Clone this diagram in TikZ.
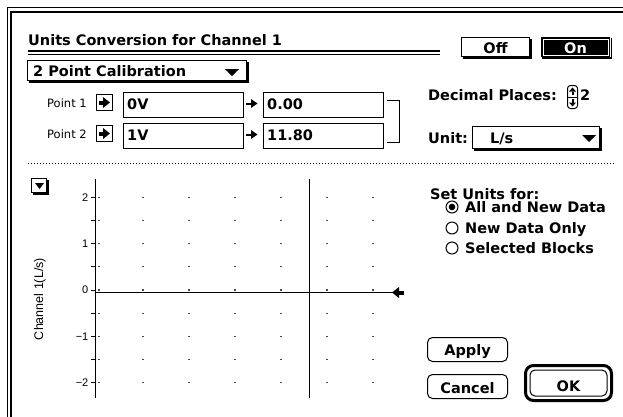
\documentclass[tikz,border=0pt]{standalone}
\usepackage{fontspec}
\newfontfamily\chic{DejaVu Sans}
\newfontfamily\genv{DejaVu Sans}
\newfontfamily\helv{Liberation Sans}
\usetikzlibrary{arrows.meta}
\begin{document}
\begin{tikzpicture}[x=1pt,y=-1pt,
  cb/.style={font=\chic\bfseries\fontsize{14.5}{16}\selectfont, inner sep=0pt},
  sm/.style={font=\genv\fontsize{11.5}{13}\selectfont, inner sep=0pt},
  hv/.style={font=\helv\fontsize{11}{13}\selectfont, inner sep=0pt},
  box/.style={draw, line width=1pt},
  shad/.style={line width=1.5pt},
  rbtn/.style={draw, line width=1pt, rounded corners=5pt},
  griddot/.style={fill=black!70}]
\useasboundingbox (0,0) rectangle (623,416);
\fill[white] (0,0) rectangle (623,416);
% window frame
\draw[line width=1pt] (7.5,420) -- (7.5,7.5) -- (630,7.5);
\draw[line width=2.5pt] (11,420) -- (11,11.75) -- (630,11.75);
% title
\node[cb, anchor=base west] (title) at (28,45) {Units Conversion for Channel 1};
\draw[line width=2pt] (28,51) -- (440,51);
\draw[line width=1pt] (28,54.5) -- (440,54.5);
% Off / On
\draw[box] (461.5,37.5) rectangle (529.5,56.5);
\draw[shad] (462.5,58) -- (531,58) -- (531,38.5);
\node[cb, anchor=base] (off) at (495.5,53) {Off};
\fill (541,37) rectangle (610,57);
\draw[shad] (542,58) -- (611.5,58) -- (611.5,38);
\draw[white, line width=0.8pt] (543,39) rectangle (608,55);
\node[cb, anchor=base, text=white] (on) at (575.5,53) {On};
% calibration popup
\draw[box] (27.5,60.5) rectangle (246.5,80.5);
\draw[shad] (28.5,82) -- (248,82) -- (248,61.5);
\node[cb, anchor=base west] (cal) at (33,76) {2 Point Calibration};
\fill (225,69) -- (239,69) -- (232,76) -- cycle;
% point rows
\foreach \yy/\lab/\va/\vb in {0/1/0V/0.00, 31/2/1V/11.80}{
\begin{scope}[shift={(0,\yy)}]
\node[sm, anchor=base west] (plab\lab) at (47,107) {Point \lab};
\draw[box] (96.5,94.5) rectangle (112.5,110.5);
\fill (99,100.5) rectangle (104,104.5);
\fill (103,97) -- (110,102.5) -- (103,108) -- cycle;
\draw[box] (123.5,92.5) rectangle (243.5,117.5);
\node[cb, anchor=base west] (pa\lab) at (127,109) {\va};
\draw[line width=2pt] (246,103.5) -- (252,103.5);
\fill (251,99) -- (257.5,103.5) -- (251,108) -- cycle;
\draw[box] (263.5,92.5) rectangle (383.5,117.5);
\node[cb, anchor=base west] (pb\lab) at (267,109) {\vb};
\end{scope}}
\draw[line width=1pt] (387,100.5) -- (399.5,100.5) -- (399.5,142.5) -- (387,142.5);
% decimal places
\node[cb, anchor=base west] (dec) at (428,100) {Decimal Places:};
\draw[line width=1pt, rounded corners=3pt] (567.5,85.5) rectangle (577.5,108.5);
\draw[line width=0.8pt] (567.5,97) -- (577.5,97);
\fill (572.5,87.5) -- (576,91.5) -- (569,91.5) -- cycle;
\fill (571.5,91.5) rectangle (573.5,95);
\fill (572.5,106.5) -- (576,102.5) -- (569,102.5) -- cycle;
\fill (571.5,99) rectangle (573.5,102.5);
\node[cb, anchor=base west] (decn) at (580,100) {2};
% unit
\node[cb, anchor=base west] (unit) at (428,143) {Unit:};
\draw[box] (472.5,126.5) rectangle (599.5,148.5);
\draw[shad] (473.5,150) -- (601,150) -- (601,127.5);
\node[cb, anchor=base west] (unitv) at (490,143) {L/s};
\fill (582,135) -- (596,135) -- (589,142) -- cycle;
% separator
\draw[line width=0.8pt, dash pattern=on 0.8pt off 2.2pt] (28,163) -- (614,163);
% plot
\draw[box] (31.5,178.5) rectangle (46.5,192.5);
\draw[shad] (32.5,194) -- (48,194) -- (48,179.5);
\fill (35,183) -- (44,183) -- (39.5,189) -- cycle;
\foreach \j in {0,...,8}{
  \pgfmathsetmacro{\yv}{197.5+23.125*\j}
  \draw[line width=0.8pt] (91,\yv) -- (95,\yv);
  \foreach \xv in {99,143,189,235,281,327,373}{
    \fill[griddot] (\xv-0.6,\yv-0.6) rectangle (\xv+0.6,\yv+0.6);
  }
}
\draw[line width=1pt] (95,179) -- (95,398);
\draw[line width=1pt] (309,179) -- (309,398);
\draw[line width=1.2pt] (95,292.5) -- (396,292.5);
\fill (392,292.5) -- (399,287) -- (399,298) -- cycle;
\fill (398,290.5) rectangle (404,294.5);
\node[hv, anchor=east] (t2) at (88.5,197.5) {2};
\node[hv, anchor=east] (t1) at (88.5,243.75) {1};
\node[hv, anchor=east] (t0) at (88.5,290) {0};
\node[hv, anchor=east] (tm1) at (88.5,336.25) {−1};
\node[hv, anchor=east] (tm2) at (88.5,382.5) {−2};
\node[font=\helv\fontsize{12.5}{14}\selectfont, inner sep=0pt, rotate=90] (ylab) at (40,299) {Channel 1(L/s)};
% set units
\node[cb, anchor=base west] (setu) at (430,199) {Set Units for:};
\draw[line width=1pt] (452,207) circle (6);
\fill (452,207) circle (3.3);
\draw[line width=1pt] (452,228) circle (6);
\draw[line width=1pt] (452,248) circle (6);
\node[cb, anchor=base west] (r1) at (465,212) {All and New Data};
\node[cb, anchor=base west] (r2) at (465,233) {New Data Only};
\node[cb, anchor=base west] (r3) at (465,253) {Selected Blocks};
% buttons
\draw[rbtn] (427.5,337.5) rectangle (507.5,361.5);
\node[cb, anchor=base] (apply) at (467.5,355) {Apply};
\draw[rbtn] (427.5,374.5) rectangle (507.5,398.5);
\node[cb, anchor=base] (cancel) at (467.5,393) {Cancel};
\draw[line width=3pt, rounded corners=8pt] (525.5,365.5) rectangle (611.5,400.5);
\draw[line width=1pt, rounded corners=5pt] (530,370) rectangle (607,396);
\node[cb, anchor=base] (ok) at (568.5,391) {OK};
\end{tikzpicture}
\end{document}
